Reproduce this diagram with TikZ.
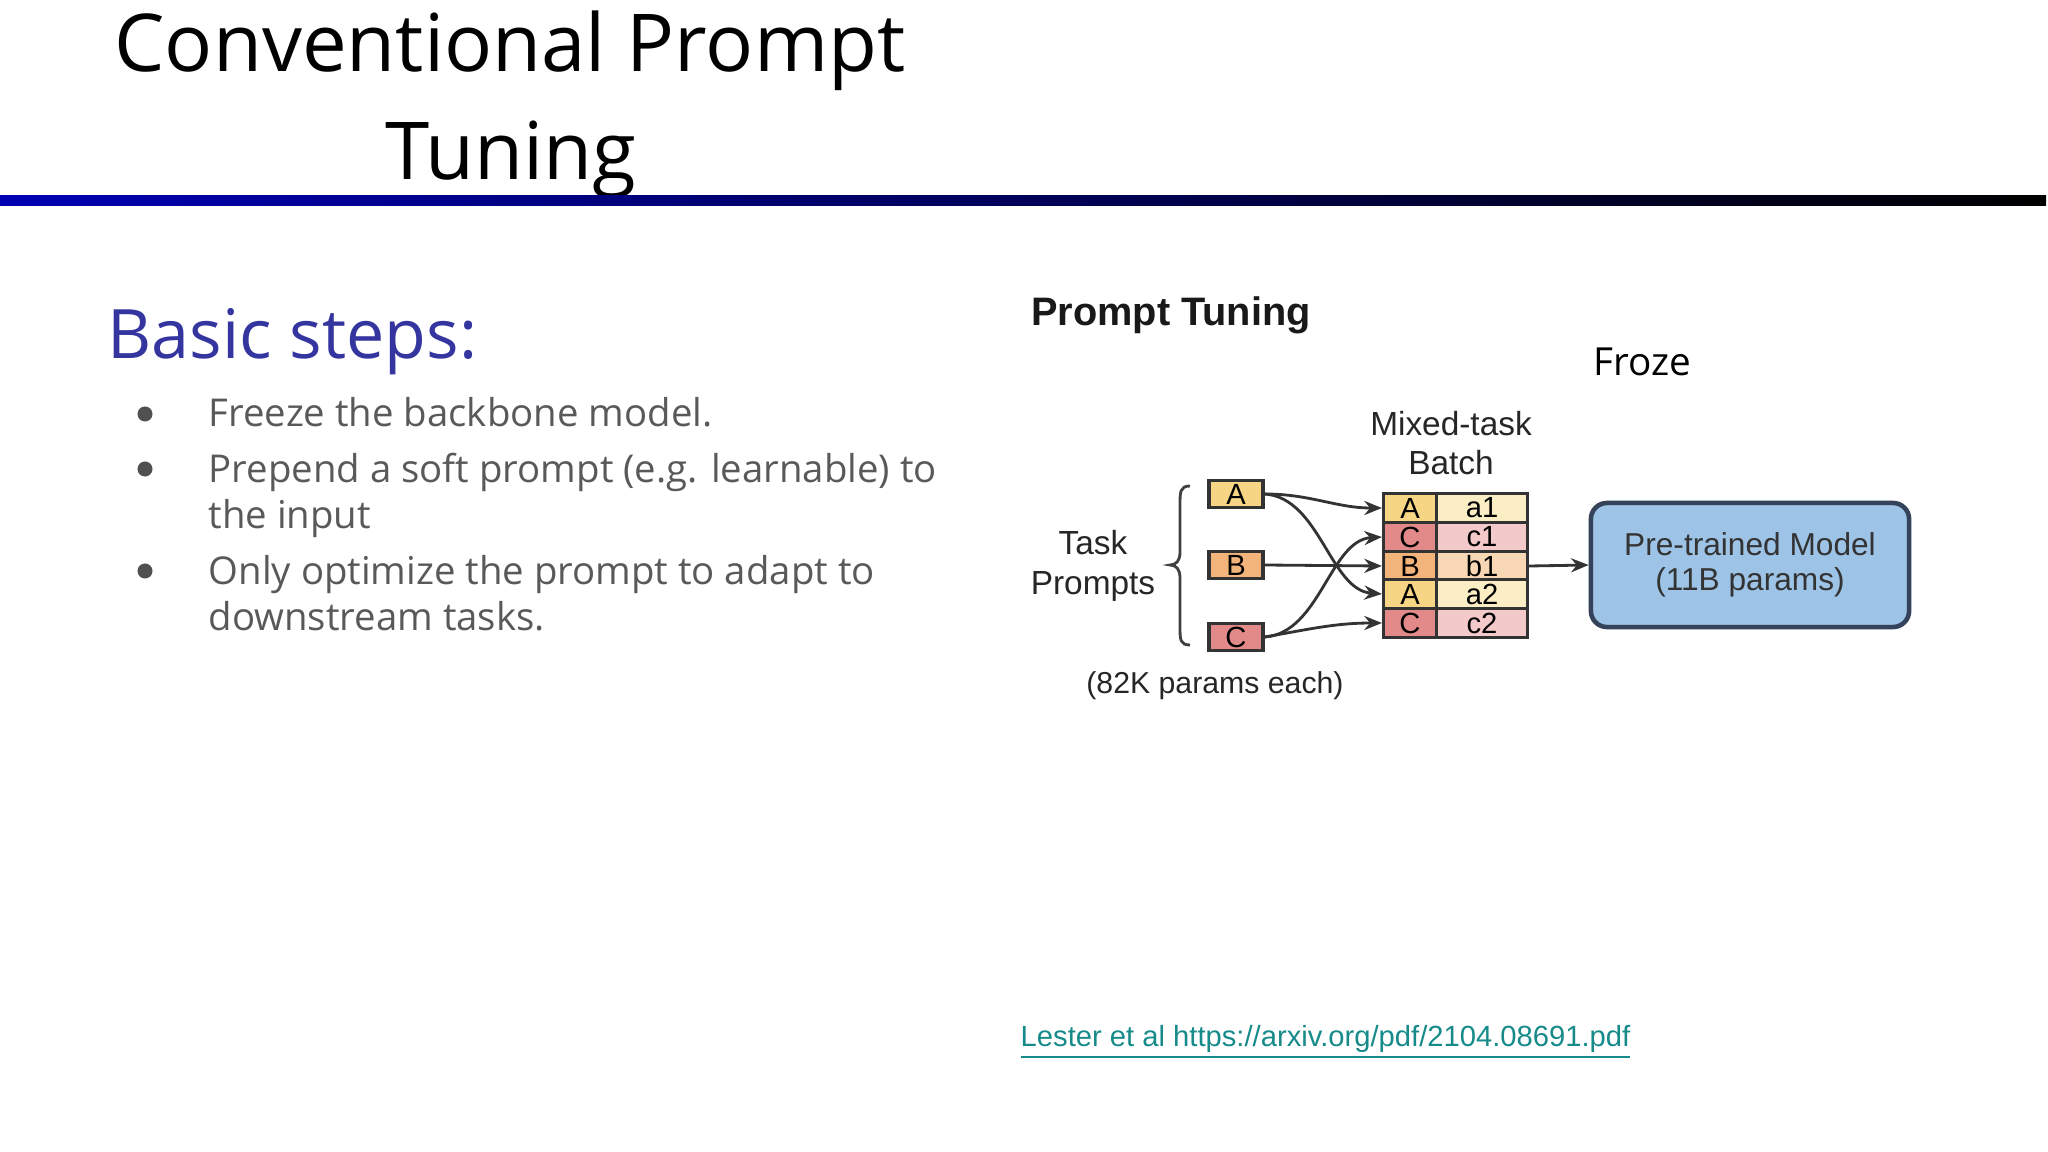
\documentclass[tikz,border=0pt]{standalone}
\usepackage{fontspec}
\setmainfont{Open Sans}
\newfontfamily\arialf{Liberation Sans}
\usetikzlibrary{arrows.meta,calc}
\definecolor{indig}{HTML}{3535A0}
\definecolor{graytx}{HTML}{595959}
\definecolor{ayel}{HTML}{F6D585}
\definecolor{ayell}{HTML}{FCEEC4}
\definecolor{cred}{HTML}{E28A8A}
\definecolor{credl}{HTML}{F4C9C9}
\definecolor{borg}{HTML}{F2B47A}
\definecolor{borgl}{HTML}{F8D8B4}
\definecolor{mblue}{HTML}{9DC3E6}
\definecolor{mborder}{HTML}{34425A}
\definecolor{linkc}{HTML}{178A8A}
\tikzset{
  x=0.01cm,y=-0.01cm,
  pbox/.style={draw=black!80,line width=1pt,minimum width=0.54cm,minimum height=0.27cm,inner sep=0pt,font=\arialf\fontsize{8.3}{9}\selectfont},
  cellL/.style={draw=black!80,line width=0.9pt,minimum width=0.53cm,minimum height=0.287cm,inner sep=0pt,font=\arialf\fontsize{8.3}{9}\selectfont},
  cellR/.style={draw=black!80,line width=0.9pt,minimum width=0.91cm,minimum height=0.287cm,inner sep=0pt,font=\arialf\fontsize{8.3}{9}\selectfont},
  dtext/.style={font=\arialf\fontsize{9.5}{11.2}\selectfont,text=black!85,align=center},
  btext/.style={font=\fontsize{10.9}{13}\selectfont,text=graytx,anchor=base west,inner sep=0pt},
  bdot/.style={circle,fill=graytx!90!black,minimum size=0.15cm,inner sep=0pt},
  arr/.style={-{Stealth[length=5pt,width=4pt]},line width=0.8pt,black!80},
}
\begin{document}
\begin{tikzpicture}
\useasboundingbox (0,0) rectangle (2048,1152);
% title
\node[anchor=base,inner sep=0pt,font=\fontsize{22.7}{27}\selectfont] (t1) at (510,72) {Conventional Prompt};
\node[anchor=base,inner sep=0pt,font=\fontsize{22.7}{27}\selectfont] (t2) at (511,180) {Tuning};
\shade[left color=blue!70!black,right color=black] (0,196) rectangle (2046,206);
% left text
\node[anchor=base west,inner sep=0pt,text=indig,font=\fontsize{19.4}{23}\selectfont] (bs) at (107,359) {Basic steps:};
\node[bdot] (d1) at (145,414) {};
\node[bdot] (d2) at (145,469) {};
\node[bdot] (d3) at (145,571) {};
\node[btext] (l1) at (208,427) {Freeze the backbone model.};
\node[btext] (l2) at (208,482) {Prepend a soft prompt (e.g. learnable) to};
\node[btext] (l3) at (208,528) {the input};
\node[btext] (l4) at (208,584) {Only optimize the prompt to adapt to};
\node[btext] (l5) at (208,630) {downstream tasks.};
% diagram
\node[font=\arialf\bfseries\fontsize{11.3}{13}\selectfont,text=black!90] (pt) at (1171,315) {Prompt Tuning};
\node[font=\fontsize{11}{14}\selectfont] (fr) at (1642,362) {Froze};
\node[dtext] (mt) at (1451,443) {Mixed-task\\Batch};
\node[dtext] (tp) at (1093,566) {Task\\Prompts};
\draw[line width=0.8pt,black!75] (1190,486) .. controls (1180,486) and (1180,492) .. (1180,505)
  -- (1180,552) .. controls (1180,561) and (1176,565) .. (1170,565)
  .. controls (1176,565) and (1180,569) .. (1180,578) -- (1180,626)
  .. controls (1180,640) and (1180,645) .. (1190,645);
\node[pbox,fill=ayel] (pa) at (1236,494) {A};
\node[pbox,fill=borg] (pb) at (1236,565) {B};
\node[pbox,fill=cred] (pc) at (1236,637) {C};
\node[dtext,font=\arialf\fontsize{8.6}{10}\selectfont] (pe) at (1215,686) {(82K params each)};
% table
\node[cellL,fill=ayel] (r1) at (1410,508) {A};
\node[cellR,fill=ayell] (s1) at (1482,508) {a1};
\node[cellL,fill=cred] (r2) at (1410,537) {C};
\node[cellR,fill=credl] (s2) at (1482,537) {c1};
\node[cellL,fill=borg] (r3) at (1410,566) {B};
\node[cellR,fill=borgl] (s3) at (1482,566) {b1};
\node[cellL,fill=ayel] (r4) at (1410,594) {A};
\node[cellR,fill=ayell] (s4) at (1482,594) {a2};
\node[cellL,fill=cred] (r5) at (1410,623) {C};
\node[cellR,fill=credl] (s5) at (1482,623) {c2};
% model
\node[draw=mborder,line width=1.3pt,fill=mblue,rounded corners=0.16cm,minimum width=3.18cm,minimum height=1.24cm,dtext,font=\arialf\fontsize{9}{10}\selectfont,text=black!80] (pm) at (1750,565) {Pre-trained Model\\(11B params)};
% arrows
\draw[arr] (pa.east) to[out=0,in=180] (r1.west);
\draw[arr] (pa.east) .. controls (1320,498) and (1330,590) .. (r4.west);
\draw[arr] (pb.east) -- (r3.west);
\draw[arr] (pc.east) .. controls (1320,633) and (1330,540) .. (r2.west);
\draw[arr] (pc.east) to[out=10,in=180] (r5.west);
\draw[arr] (s3.east) -- (pm.west);
% link
\node[anchor=base west,inner sep=0pt,text=linkc,font=\arialf\fontsize{8.3}{10}\selectfont] (lk) at (1020,1046) {\underline{Lester et al https://arxiv.org/pdf/2104.08691.pdf}};
\end{tikzpicture}
\end{document}
